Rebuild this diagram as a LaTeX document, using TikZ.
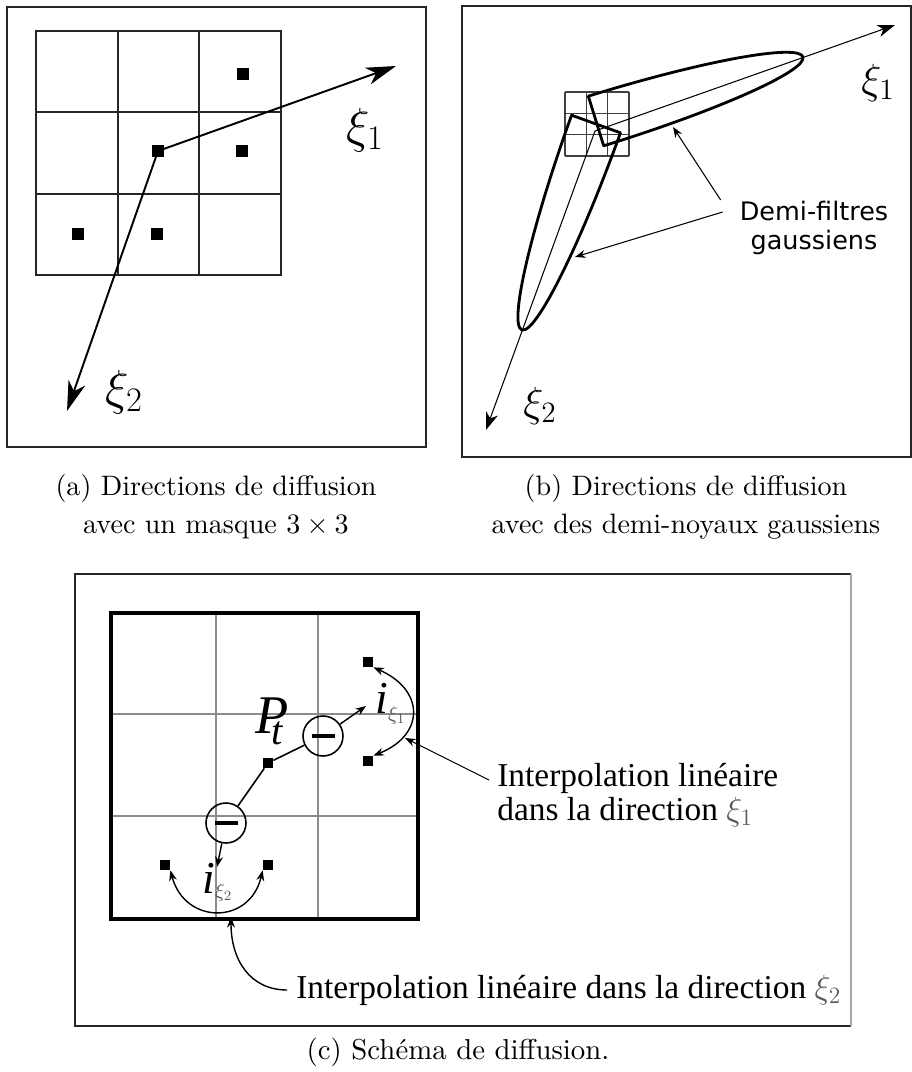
\RequirePackage{fix-cm}
\documentclass[tikz,border=0pt]{standalone}
\usepackage{fontspec}
\newfontfamily\sansdemi{DejaVu Sans}
\newfontfamily\timesfig{Liberation Serif}
\usepackage{tikz}
\usetikzlibrary{positioning}
\usetikzlibrary{calc}
\usetikzlibrary{arrows.meta}

\newcommand{\ixi}[2]{{\timesfig\itshape\fontsize{26}{26}\selectfont i}\raisebox{#2}{\fontsize{11.5}{12}\selectfont\color{black!65}$\xi_{#1}$}}

\tikzset{
    cadre/.style={draw=black!85, line width=0.8pt},
    carre/.style={fill=black, inner sep=0pt, minimum size=#1},
    grosse fleche/.style={line width=1.1pt, -{Stealth[length=17pt, width=10pt, inset=5pt]}},
    fine fleche/.style={line width=0.6pt, -{Stealth[length=10pt, width=7pt, inset=3pt]}},
    petite fleche/.style={line width=0.8pt, -{Stealth[length=6pt, width=4.5pt]}},
    demi/.style={line width=1.6pt, line join=round},
    moins/.style={circle, draw, line width=0.9pt, minimum size=0.8cm, inner sep=0pt},
    legende/.style={align=center, font=\fontsize{10}{13.6}\selectfont}
}

\begin{document}
\begin{tikzpicture}[x=0.02cm, y=-0.02cm]
    \useasboundingbox (0,0) rectangle (912,1072);

    % (a) masque 3x3
    \draw[cadre] (7,7) rectangle (426,447);
    \draw[black!85, line width=1.1pt] (36,31) rectangle (281,275);
    \foreach \i in {1,2} {
        \draw[black!85, line width=1.1pt] (36+81.67*\i,31) -- ++(0,244);
        \draw[black!85, line width=1.1pt] (36,31+81.33*\i) -- ++(245,0);
    }
    \foreach \x/\y/\n in {243/74/a1, 158/151/a0, 242/151/a2, 78/234/a3, 157/234/a4}
        \node[carre=0.24cm] (\n) at (\x,\y) {};
    \coordinate (xiA1) at (396,66);
    \coordinate (xiA2) at (67,411);
    \draw[grosse fleche] (a0.center) -- (xiA1);
    \draw[grosse fleche] (a0.center) -- (xiA2);
    \node[font=\fontsize{28}{30}\selectfont] (labA1) at (365,130) {$\xi_1$};
    \node[font=\fontsize{28}{30}\selectfont] (labA2) at (124,392) {$\xi_2$};

    % (b) demi-noyaux
    \draw[cadre] (462,6) rectangle (911,457);
    \foreach \i in {0,...,3} {
        \draw[black!75, line width=0.6pt] (565+21.33*\i,92) -- ++(0,64);
        \draw[black!75, line width=0.6pt] (565,92+21.33*\i) -- ++(64,0);
    }
    \coordinate (o) at (595,131);
    \coordinate (xiB1) at (895,25);
    \coordinate (xiB2) at (486,430);
    \draw[fine fleche] (o) -- (xiB1);
    \draw[fine fleche] (o) -- (xiB2);
    \begin{scope}[shift={(596,121)}, rotate=17.2]
        \draw[demi] (0,-26) arc[start angle=90, end angle=-90, x radius=4.334cm, y radius=0.52cm] -- cycle;
    \end{scope}
    \begin{scope}[shift={(596,124)}, rotate=-109.8]
        \draw[demi] (0,-26) arc[start angle=90, end angle=-90, x radius=4.378cm, y radius=0.52cm] -- cycle;
    \end{scope}
    \node[font=\fontsize{24}{26}\selectfont] (labB1) at (878,83) {$\xi_1$};
    \node[font=\fontsize{24}{26}\selectfont] (labB2) at (540,406) {$\xi_2$};
    \node[align=center, font=\sansdemi\fontsize{14.5}{16.5}\selectfont] (demi) at (814,228) {Demi-filtres\\gaussiens};
    \coordinate (cible1) at (673,127);
    \coordinate (cible2) at (575,257);
    \draw[petite fleche, line width=0.6pt] ([shift={(-13,-28)}]demi.west) -- (cible1);
    \draw[petite fleche, line width=0.6pt] ([shift={(-11,-16)}]demi.west) -- (cible2);

    % legendes (a) et (b)
    \node[legende, scale=1.6] (capA) at (216,507) {(a) Directions de diffusion\\avec un masque $3\times 3$};
    \node[legende, scale=1.6] (capB) at (686,507) {(b) Directions de diffusion\\avec des demi-noyaux gaussiens};

    % (c) schema de diffusion
    \draw[black!85, line width=0.6pt] (851,574) -- (75,574) -- (75,1026) -- (851,1026);
    \draw[black!35, line width=0.6pt] (851,574) -- (851,1026);
    \foreach \k in {216,318}
        \draw[black!45, line width=1.3pt] (\k,613) -- ++(0,306);
    \foreach \k in {714,816}
        \draw[black!45, line width=1.3pt] (111,\k) -- ++(307,0);
    \draw[line width=1.9pt] (111,613) rectangle (418,919);

    \foreach \x/\y/\n in {368/662/c1, 368/761/c2, 268/763/c0, 165/865/c3, 268/865/c4}
        \node[carre=0.2cm] (\n) at (\x,\y) {};
    \node[moins] (m1) at (323,736) {\rule{0.46cm}{1.8pt}};
    \node[moins] (m2) at (226,823) {\rule{0.46cm}{1.8pt}};
    \draw[line width=0.9pt] (c0) -- (m1);
    \draw[line width=0.9pt] (c0) -- (m2);
    \coordinate (tipi1) at (366,706);
    \coordinate (tipi2) at (217,867);
    \draw[petite fleche] (m1) -- (tipi1);
    \draw[petite fleche] (m2) -- (tipi2);

    \node[anchor=base west, inner sep=0pt] (Pt) at (255,733)
        {\timesfig\itshape\fontsize{31}{31}\selectfont P\kern-10pt\raisebox{-6.8pt}{\fontsize{23}{23}\selectfont t}};
    \node[anchor=base west, inner sep=0pt] (ixi1) at (375,713) {\ixi{1}{-4.5pt}};
    \node[anchor=base west, inner sep=0pt] (ixi2) at (202,893) {\ixi{2}{-2.5pt}};

    \draw[petite fleche, {Stealth[length=6pt, width=4.5pt]}-{Stealth[length=6pt, width=4.5pt]}]
        (c1.south east) .. controls (425,690) and (425,735) .. (c2.north east);
    \draw[petite fleche, {Stealth[length=6pt, width=4.5pt]}-{Stealth[length=6pt, width=4.5pt]}]
        (c3.south east) .. controls (185,925) and (250,925) .. (c4.south west);

    \node[anchor=west, align=left, inner sep=0pt, font=\timesfig\fontsize{19}{19.4}\selectfont] (interp1) at (497,795)
        {Interpolation linéaire\\dans la direction {\color{black!65}$\xi_1$}};
    \node[anchor=west, inner sep=0pt, font=\timesfig\fontsize{19}{19.4}\selectfont] (interp2) at (296,990)
        {Interpolation linéaire dans la direction {\color{black!65}$\xi_2$}};
    \coordinate (cible3) at (405,738);
    \coordinate (cible4) at (231,917);
    \draw[petite fleche, line width=0.6pt] ([xshift=-4.5pt, yshift=8.5pt]interp1.west) -- (cible3);
    \draw[petite fleche] ([xshift=-5pt]interp2.west) .. controls (250,990) and (231,960) .. (cible4);

    \node[legende, scale=1.64] (capC) at (458,1052) {(c) Schéma de diffusion.};
\end{tikzpicture}
\end{document}
